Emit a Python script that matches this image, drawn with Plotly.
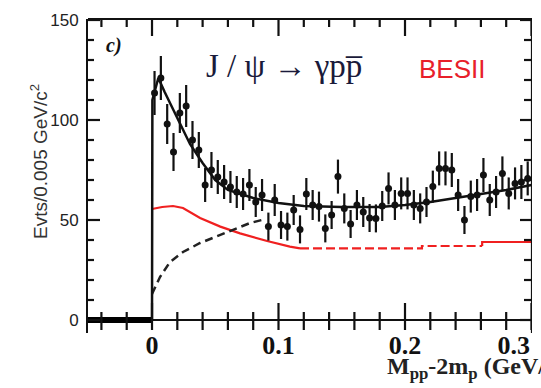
import plotly.graph_objects as go

# ---- data ----
bin_x = [0.002 + 0.005 * i for i in range(60)]
counts = [113.5, 121, 98, 84, 103.5, 107, 90, 85, 67.5, 75,
          71.5, 69, 66.5, 64, 63, 67.5, 59, 62.5, 46.7, 60,
          47.5, 46.7, 55, 45.3, 63, 57.5, 56.7, 45.8, 52.5, 71.7,
          55.8, 48, 57.5, 54, 51, 50.8, 57, 65.8, 57.5, 63.3,
          63.3, 57.5, 55.8, 59, 66.7, 75.8, 75.8, 75, 62.5, 50,
          61.7, 62.5, 72.5, 60, 64, 73.3, 63.3, 68.3, 69, 70.8]
errors = [11, 11, 10, 9.5, 10, 10.5, 9.5, 9, 8.5, 9,
          8.5, 8.5, 8, 8, 8, 8, 7.5, 8, 7, 8,
          7, 7, 7.5, 7, 8, 7.5, 7.5, 7, 7, 8.5,
          7.5, 7, 7.5, 7.5, 7, 7, 7.5, 8, 7.5, 8,
          8, 7.5, 7.5, 7.5, 8, 8.5, 8.5, 8.5, 8, 7,
          8, 8, 8.5, 8, 8, 8.5, 8, 8, 8.5, 8.5]

below_x = [-0.0506, -0.04, -0.03, -0.02, -0.01, 0.0]
below_y = [0, 0, 0, 0, 0, 0]

fit_x = [0.0, 0.0003, 0.005, 0.01, 0.02, 0.03, 0.04, 0.05, 0.06, 0.07, 0.08,
         0.1, 0.12, 0.15, 0.18, 0.2, 0.22, 0.24, 0.26, 0.28, 0.3]
fit_y = [0, 110, 121, 114, 101, 88, 78.5, 70, 65, 63, 61,
         58.5, 57, 56.5, 56.5, 57.5, 59, 61, 63, 65, 67.5]

red_solid_x = [0.0, 0.008, 0.0166, 0.0245, 0.038, 0.054, 0.0696, 0.091, 0.109, 0.117]
red_solid_y = [55.5, 56.5, 57, 56, 51, 46.7, 43.3, 39.5, 36.7, 35.8]
red_dash_x = [0.117, 0.2134, 0.2134, 0.261]
red_dash_y = [35.8, 35.8, 37, 37]
red_end_x = [0.261, 0.261, 0.3004]
red_end_y = [37, 39, 39]

bg_x = [0.0, 0.0063, 0.0142, 0.0245, 0.038, 0.054, 0.0696, 0.0775, 0.09]
bg_y = [13, 21.5, 29, 34, 38.5, 42.5, 46.7, 48.5, 50.5]

xtick_vals = [0, 0.1, 0.2, 0.286]
xtick_text = ["0", "0.1", "0.2", "0.3"]
x_major = [0.0, 0.1, 0.2, 0.3]
x_minor = [-0.04, -0.02, 0.02, 0.04, 0.06, 0.08, 0.12, 0.14, 0.16, 0.18,
           0.22, 0.24, 0.26, 0.28]
y_major = [0, 50, 100, 150]
y_minor = [10, 20, 30, 40, 60, 70, 80, 90, 110, 120, 130, 140]

XR = [-0.0506, 0.3004]
YR = [-6.5, 150.5]

# plot-area size in px (541-88-9, 388-19-55) -> px per data unit
PX_X = 444.0 / (XR[1] - XR[0])
PX_Y = 314.0 / (YR[1] - YR[0])

fig = go.Figure()
fig.add_trace(go.Scatter(x=red_solid_x, y=red_solid_y, mode="lines",
                         line=dict(color="#f02020", width=2.2), showlegend=False))
fig.add_trace(go.Scatter(x=red_dash_x, y=red_dash_y, mode="lines",
                         line=dict(color="#f02020", width=2.2, dash="9px,4px"), showlegend=False))
fig.add_trace(go.Scatter(x=red_end_x, y=red_end_y, mode="lines",
                         line=dict(color="#f02020", width=2.2), showlegend=False))
fig.add_trace(go.Scatter(x=bg_x, y=bg_y, mode="lines",
                         line=dict(color="#222222", width=2.5, dash="8px,5px"), showlegend=False))
fig.add_trace(go.Scatter(x=fit_x, y=fit_y, mode="lines",
                         line=dict(color="#111111", width=2.5), showlegend=False))
fig.add_trace(go.Scatter(x=below_x, y=below_y, mode="lines",
                         line=dict(color="#000000", width=6), showlegend=False))
fig.add_trace(go.Scatter(x=bin_x, y=counts, mode="markers",
                         marker=dict(color="#111111", size=7),
                         error_y=dict(type="data", array=errors, color="#111111",
                                      thickness=2.2, width=0),
                         showlegend=False))

# ---- frame tick marks drawn as error bars on invisible anchor points ----
TICK = dict(type="data", symmetric=False, color="#111111", thickness=2.2, width=0)
HIDE = dict(size=2, opacity=0)

xt = x_minor + x_major
up_len = [8 / PX_Y] * len(x_minor) + [17 / PX_Y] * len(x_major)
# ticks crossing the y = 0 axis line
fig.add_trace(go.Scatter(x=xt, y=[0] * len(xt), mode="markers", marker=HIDE,
                         error_y=dict(TICK, array=up_len, arrayminus=[10 / PX_Y] * len(xt)),
                         cliponaxis=False, showlegend=False, hoverinfo="skip"))
# ticks hanging from the top frame
fig.add_trace(go.Scatter(x=xt, y=[YR[1]] * len(xt), mode="markers", marker=HIDE,
                         error_y=dict(TICK, array=[0] * len(xt), arrayminus=up_len),
                         cliponaxis=False, showlegend=False, hoverinfo="skip"))
yt = y_minor + y_major
# left frame ticks
fig.add_trace(go.Scatter(x=[XR[0]] * len(yt), y=yt, mode="markers", marker=HIDE,
                         error_x=dict(TICK, array=[6 / PX_X] * len(y_minor)
                                      + [12 / PX_X] * len(y_major),
                                      arrayminus=[0] * len(yt)),
                         cliponaxis=False, showlegend=False, hoverinfo="skip"))
# right frame ticks
fig.add_trace(go.Scatter(x=[XR[1]] * len(yt), y=yt, mode="markers", marker=HIDE,
                         error_x=dict(TICK, array=[0] * len(yt),
                                      arrayminus=[8 / PX_X] * len(y_minor)
                                      + [12 / PX_X] * len(y_major)),
                         cliponaxis=False, showlegend=False, hoverinfo="skip"))
# right frame line
fig.add_trace(go.Scatter(x=[XR[1]], y=[YR[0]], mode="markers", marker=HIDE,
                         error_y=dict(TICK, array=[YR[1] - YR[0]], arrayminus=[0]),
                         cliponaxis=False, showlegend=False, hoverinfo="skip"))

serif = "Liberation Serif"
sans = "Liberation Sans"

fig.update_layout(
    width=541, height=388,
    margin=dict(l=88, r=9, t=19, b=55),
    paper_bgcolor="white", plot_bgcolor="white",
    shapes=[dict(type="line", xref="paper", yref="paper", x0=0, x1=1, y0=1, y1=1,
                 line=dict(color="#111111", width=2.2), layer="above")],
    xaxis=dict(range=XR, side="bottom", showgrid=False, zeroline=False,
               tickmode="array", tickvals=xtick_vals, ticktext=xtick_text,
               ticks="", showline=False, ticklabelstandoff=-6,
               tickfont=dict(family=serif, size=26, color="#111111", weight="bold")),
    yaxis=dict(range=YR, showgrid=False,
               zeroline=True, zerolinecolor="#111111", zerolinewidth=2,
               tickmode="linear", tick0=0, dtick=50, ticks="",
               showline=True, linecolor="#111111", linewidth=2, ticklabelstandoff=4,
               tickfont=dict(family=sans, size=17, color="#222222")),
)

fig.add_annotation(text="Evts/0.005 GeV/c<sup>2</sup>", textangle=-90,
                   xref="paper", yref="paper", x=-0.11, y=0.545,
                   xanchor="center", yanchor="middle", showarrow=False,
                   font=dict(family=sans, size=19, color="#333333"))
fig.add_annotation(text="J / \u03c8 \u2192 \u03b3pp\u0305",
                   xref="paper", yref="paper", x=(204 - 88) / 444.0, y=(333 - 66) / 314.0,
                   xanchor="left", yanchor="middle", showarrow=False,
                   font=dict(family=serif, size=33, color="#1a1a3a"))
fig.add_annotation(text="BESII",
                   xref="paper", yref="paper", x=(417 - 88) / 444.0, y=(333 - 69) / 314.0,
                   xanchor="left", yanchor="middle", showarrow=False,
                   font=dict(family=sans, size=26, color="#e8202a"))
fig.add_annotation(text="<i><b>c)</b></i>",
                   xref="paper", yref="paper", x=(104 - 88) / 444.0, y=(333 - 46) / 314.0,
                   xanchor="left", yanchor="middle", showarrow=False,
                   font=dict(family=serif, size=20, color="#111111"))
fig.add_annotation(text="<b>M<sub>pp</sub>-2m<sub>p</sub> (GeV/c<sup>2</sup>)</b>",
                   xref="paper", yref="paper", x=(385 - 88) / 444.0, y=(333 - 366) / 314.0,
                   xanchor="left", yanchor="middle", showarrow=False,
                   font=dict(family=serif, size=24, color="#222222"))

fig.write_html("out.html")
